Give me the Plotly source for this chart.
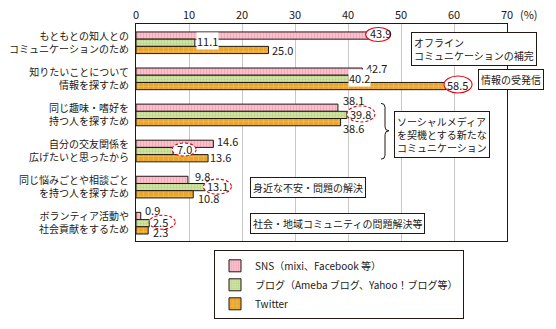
import plotly.graph_objects as go

# ---------------- data ----------------
categories = [
    "もともとの知人との<br>コミュニケーションのため",
    "知りたいことについて<br>情報を探すため",
    "同じ趣味・嗜好を<br>持つ人を探すため",
    "自分の交友関係を<br>広げたいと思ったから",
    "同じ悩みごとや相談ごと<br>を持つ人を探すため",
    "ボランティア活動や<br>社会貢献をするため",
]
series_names = ["SNS（mixi、Facebook 等）", "ブログ（Ameba ブログ、Yahoo！ブログ等）", "Twitter"]
sns = [43.9, 42.7, 38.1, 14.6, 9.8, 0.9]
blog = [11.1, 40.2, 39.8, 7.0, 13.1, 2.5]
twitter = [25.0, 58.5, 38.6, 13.6, 10.8, 2.3]
x_ticks = [0, 10, 20, 30, 40, 50, 60, 70]
x_tick_labels = ["0", "10", "20", "30", "40", "50", "60", "70"]

# ---------------- styles ----------------
FONT = "Noto Sans CJK JP"
TXT = "#231815"
FW, FH = 556, 329
L, R, T, B = 136, 507, 24, 245
MB = 10                      # bottom margin (legend lives inside paper area)
PW, PH = R - L, FH - MB - T  # paper width / height in px
def xp(px): return (px - L) / PW
def yp(py): return (FH - MB - py) / PH
y_domain_bottom = yp(B)

styles = [
    dict(shape="|", fg="#EE93AA", bg="#F9C3CF", size=3, sol=0.45),
    dict(shape=".", fg="#9EC466", bg="#D3E6A8", size=3, sol=0.45),
    dict(shape="+", fg="#F8D77E", bg="#EAA52C", size=5, sol=0.25),
]
offsets = [-0.3, -0.1, 0.1]
series = [sns, blog, twitter]

fig = go.Figure()
ypos = list(range(len(categories)))
for vals, name, st, off in zip(series, series_names, styles, offsets):
    fig.add_trace(go.Bar(
        x=vals, y=ypos, orientation="h", name=name,
        width=0.2, offset=off,
        marker=dict(color=st["bg"], line=dict(color="#231815", width=1),
                    pattern=dict(shape=st["shape"], fgcolor=st["fg"], bgcolor=st["bg"],
                                 size=st["size"], solidity=st["sol"], fillmode="overlay")),
        hoverinfo="skip",
    ))

# value-label placement (pixel shifts from bar end / bar centre)
label_shift = [
    [(0, 3), (3, 4), (4, 8), (3, 3), (6, 4), (3, 6)],
    [(1, 2), (-1, 1), (2, 1), (3, 2), (1, 1), (3, 1)],
    [(2, 0), (0, 1), (1, -6), (1, 1), (4, -4), (4, -2)],
]
white_bg = [
    [False] * 6,
    [True, True, False, False, False, False],
    [False] * 6,
]
annotations = []
for si, (vals, off) in enumerate(zip(series, offsets)):
    for gi, v in enumerate(vals):
        dx, dy = label_shift[si][gi]
        annotations.append(dict(
            x=v, y=gi + off + 0.1, xref="x", yref="y", text=f"{v:.1f}",
            showarrow=False, xanchor="left", yanchor="middle",
            xshift=dx, yshift=dy, borderpad=0,
            bgcolor="white" if white_bg[si][gi] else "rgba(0,0,0,0)",
            font=dict(family=FONT, size=11, color=TXT),
        ))

# red ellipses: (series, group, x0, x1, y0, y1 pixel offsets, dashed)
ellipses = [
    (0, 0, -3, 22, -6, 8, False),
    (2, 1, -2, 26, -7, 10, False),
    (1, 2, 0, 28, -7, 9, True),
    (1, 3, -1, 23, -5, 8, True),
    (1, 4, -2, 26, -7, 8, True),
    (1, 5, 0, 26, -6, 8, True),
]
shapes = []
for si, gi, x0, x1, y0, y1, dash in ellipses:
    shapes.append(dict(
        type="circle", xref="x", yref="y", xsizemode="pixel", ysizemode="pixel",
        xanchor=series[si][gi], yanchor=gi + offsets[si] + 0.1,
        x0=x0, x1=x1, y0=y0, y1=y1, fillcolor="white", layer="above",
        line=dict(color="#E60012", width=1.1, dash="3px,2px" if dash else "solid"),
    ))

# brace
bx, bt, bm, bb, tip = 385, 105, 133, 162, 389
path = (f"M {xp(bx-4)},{yp(bt)} Q {xp(bx)},{yp(bt)} {xp(bx)},{yp(bt+4)} "
        f"L {xp(bx)},{yp(bm-4)} Q {xp(bx)},{yp(bm)} {xp(tip)},{yp(bm)} "
        f"Q {xp(bx)},{yp(bm)} {xp(bx)},{yp(bm+4)} "
        f"L {xp(bx)},{yp(bb-4)} Q {xp(bx)},{yp(bb)} {xp(bx-4)},{yp(bb)}")
shapes.append(dict(type="path", xref="paper", yref="paper", path=path,
                   line=dict(color=TXT, width=1)))

# boxed notes
notes = [
    ("オフライン<br>コミュニケーションの補完", 411, 32),
    ("情報の受発信", 478, 70),
    ("ソーシャルメディア<br>を契機とする新たな<br>コミュニケーション", 394, 113),
    ("身近な不安・問題の解決", 250, 180),
    ("社会・地域コミュニティの問題解決等", 250, 217),
]
for text, px, py in notes:
    annotations.append(dict(
        x=xp(px), y=yp(py), xref="paper", yref="paper", text=text,
        showarrow=False, xanchor="left", yanchor="top", align="left",
        bgcolor="white", bordercolor=TXT, borderwidth=1, borderpad=2,
        font=dict(family=FONT, size=10, color=TXT),
    ))

# unit
annotations.append(dict(x=xp(518), y=yp(14), xref="paper", yref="paper", text="(%)",
                        showarrow=False, xanchor="left", yanchor="middle",
                        font=dict(family=FONT, size=11, color=TXT)))

fig.update_layout(
    width=FW, height=FH,
    margin=dict(l=L, r=FW - R, t=T, b=MB),
    paper_bgcolor="white", plot_bgcolor="white",
    barmode="overlay",
    font=dict(family=FONT, size=10, color=TXT),
    xaxis=dict(side="top", range=[0, 70], tickvals=x_ticks, ticktext=x_tick_labels,
               showgrid=True, gridcolor="#C8C8C8", gridwidth=1, zeroline=False,
               showline=True, mirror=True, linecolor=TXT, linewidth=1.2, ticks="",
               automargin=False, anchor="y",
               tickfont=dict(family=FONT, size=11, color=TXT)),
    yaxis=dict(range=[5.48, -0.52], tickvals=ypos, ticktext=categories,
               domain=[y_domain_bottom, 1],
               showgrid=False, zeroline=False, showline=True, mirror=True,
               linecolor=TXT, linewidth=1.2, ticks="", ticklabelstandoff=4,
               automargin=False,
               tickfont=dict(family=FONT, size=10, color=TXT)),
    legend=dict(x=xp(214), y=yp(255), xanchor="left", yanchor="top",
                bordercolor=TXT, borderwidth=1, bgcolor="white",
                font=dict(family=FONT, size=10, color=TXT), traceorder="normal",
                itemwidth=30),
    showlegend=True,
    annotations=annotations, shapes=shapes,
)
fig.write_html("out.html")
